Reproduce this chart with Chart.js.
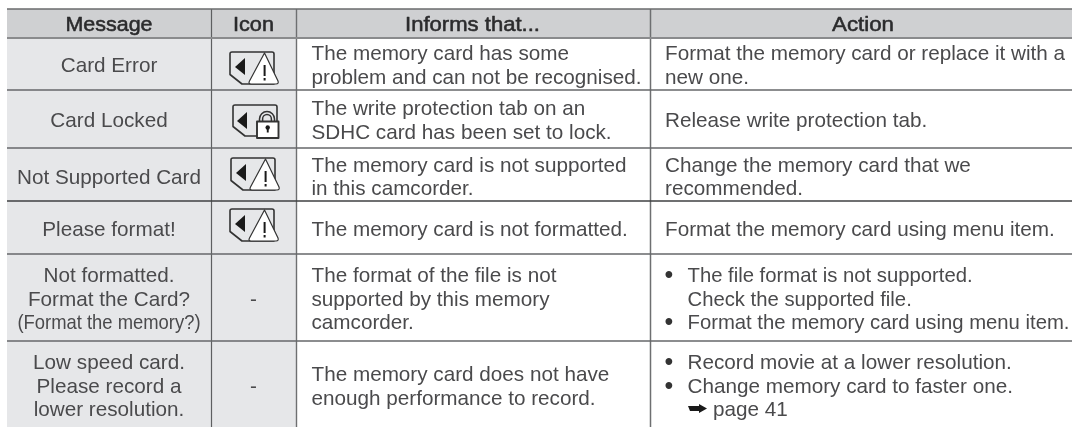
<!DOCTYPE html>
<html><head><meta charset="utf-8">
<script src="https://cdn.jsdelivr.net/npm/chart.js@4"></script>
<style>html,body{margin:0;padding:0;background:#fff}canvas{display:block}</style>
</head><body>
<canvas id="c" width="1072" height="427"></canvas>
<script>
const headers = ['Message','Icon','Informs that...','Action'];
const messages = [
  ['Card Error'],['Card Locked'],['Not Supported Card'],['Please format!'],
  ['Not formatted.','Format the Card?','(Format the memory?)'],
  ['Low speed card.','Please record a','lower resolution.']
];
const icons = ['warning','lock','warning','warning','-','-'];
const informs = [
  ['The memory card has some','problem and can not be recognised.'],
  ['The write protection tab on an','SDHC card has been set to lock.'],
  ['The memory card is not supported','in this camcorder.'],
  ['The memory card is not formatted.'],
  ['The format of the file is not','supported by this memory','camcorder.'],
  ['The memory card does not have','enough performance to record.']
];
const actions = [
  ['Format the memory card or replace it with a','new one.'],
  ['Release write protection tab.'],
  ['Change the memory card that we','recommended.'],
  ['Format the memory card using menu item.'],
  ['• The file format is not supported.','  Check the supported file.','• Format the memory card using menu item.'],
  ['• Record movie at a lower resolution.','• Change memory card to faster one.','→ page 41']
];
// table layout, in axis units
const colEdges = [7,211,296,650,1072];
const rowEdges = [9,38,90,148,201,254,341,427];
const rowOffset = [8,8.2,9,8.5,8.2,8.8];
const bulletScale = [1,1,1,1,0.98,1];
const headerCenters = [109,253.5,472.5,863];
const headerWidths = [87,41,135,62];
const textColor='#4a4a4c', headColor='#2b2b2d', FONT='"Liberation Sans"';
const FS=20.7, PITCH=23.6;

function warnIcon(ctx,x,y){
  ctx.save();ctx.translate(x,y);
  ctx.strokeStyle='#333';ctx.lineJoin='round';
  ctx.fillStyle='#fff';
  ctx.beginPath();ctx.moveTo(2,0);ctx.lineTo(42,0);ctx.quadraticCurveTo(44,0,44,2);
  ctx.lineTo(44,32);ctx.lineTo(12,32);ctx.lineTo(0,22.5);ctx.lineTo(0,2);ctx.quadraticCurveTo(0,0,2,0);ctx.closePath();
  ctx.lineWidth=1.6;ctx.stroke();
  ctx.fillStyle='#1a1a1a';ctx.beginPath();ctx.moveTo(5,15);ctx.lineTo(15,6);ctx.lineTo(15,23);ctx.closePath();ctx.fill();
  ctx.fillStyle='#fff';ctx.lineWidth=1.2;
  ctx.beginPath();ctx.moveTo(34.5,1);ctx.lineTo(48,29);ctx.quadraticCurveTo(49,32,46,32);ctx.lineTo(21,32);ctx.quadraticCurveTo(18,32,19.5,29);ctx.closePath();ctx.fill();ctx.stroke();
  ctx.fillStyle='#1a1a1a';ctx.fillRect(33.6,13,2,11);ctx.fillRect(33.6,26,2,2.5);
  ctx.restore();
}
function lockIcon(ctx,x,y){
  ctx.save();ctx.translate(x,y);
  ctx.strokeStyle='#333';ctx.lineWidth=1.6;ctx.lineJoin='round';
  ctx.beginPath();ctx.moveTo(2,0);ctx.lineTo(42,0);ctx.quadraticCurveTo(44,0,44,2);ctx.lineTo(44,18);
  ctx.moveTo(24,31);ctx.lineTo(12,31);ctx.lineTo(0,21.5);ctx.lineTo(0,2);ctx.quadraticCurveTo(0,0,2,0);ctx.stroke();
  ctx.fillStyle='#1a1a1a';ctx.beginPath();ctx.moveTo(4,16);ctx.lineTo(14,7);ctx.lineTo(14,24);ctx.closePath();ctx.fill();
  ctx.lineWidth=1.5;
  ctx.beginPath();ctx.arc(34,14,7.5,Math.PI,0);ctx.lineTo(41.5,18);ctx.moveTo(26.5,14);ctx.lineTo(26.5,18);ctx.stroke();
  ctx.beginPath();ctx.arc(34,14,4.4,Math.PI,0);ctx.lineTo(38.4,18);ctx.moveTo(29.6,14);ctx.lineTo(29.6,18);ctx.stroke();
  ctx.fillStyle='#fff';ctx.lineWidth=1.9;ctx.beginPath();ctx.rect(24,16.5,21.5,16.5);ctx.fill();ctx.stroke();
  ctx.fillStyle='#1a1a1a';ctx.beginPath();ctx.arc(34.7,22.5,2.2,0,7);ctx.fill();ctx.fillRect(33.8,23,1.9,4.5);
  ctx.restore();
}
const iconPos = [[230,52],[233,105],[231,158],[230,209]];

const tablePlugin = {
  id:'table',
  beforeDatasetsDraw(chart){
    const ctx=chart.ctx, X=v=>chart.scales.x.getPixelForValue(v), Y=v=>chart.scales.y.getPixelForValue(v);
    ctx.save();
    ctx.fillStyle='#cfd0d2';ctx.fillRect(X(colEdges[0]),Y(rowEdges[0]),X(colEdges[4])-X(colEdges[0]),Y(rowEdges[1])-Y(rowEdges[0]));
    ctx.fillStyle='#e6e7e9';ctx.fillRect(X(colEdges[0]),Y(rowEdges[1]),X(colEdges[2])-X(colEdges[0]),Y(rowEdges[7])-Y(rowEdges[1]));
    const vline=(x,a,b,c,w)=>{ctx.strokeStyle=c;ctx.lineWidth=w;ctx.beginPath();ctx.moveTo(X(x),Y(a));ctx.lineTo(X(x),Y(b));ctx.stroke();};
    const hline=(y,c,w)=>{ctx.strokeStyle=c;ctx.lineWidth=w;ctx.beginPath();ctx.moveTo(X(colEdges[0]),Y(y));ctx.lineTo(X(colEdges[4]),Y(y));ctx.stroke();};
    vline(211.5,rowEdges[0],rowEdges[7],'#5e5f61',1.2);
    vline(296.5,rowEdges[0],rowEdges[7],'#6e6f71',1.4);
    vline(650.5,rowEdges[0],rowEdges[7],'#6e6f71',1.5);
    hline(rowEdges[0],'#6a6b6d',1.4);
    hline(rowEdges[1],'#8a8b8d',2);
    [90,148,254,341].forEach(y=>hline(y,'#66676a',1.4));
    hline(201,'#3f4042',1.4);
    ctx.textBaseline='alphabetic';
    ctx.fillStyle=headColor;ctx.strokeStyle=headColor;ctx.lineWidth=0.55;ctx.lineJoin='round';
    ctx.font=FS+'px '+FONT;ctx.textAlign='center';
    headers.forEach((h,i)=>{
      const k=headerWidths[i]/ctx.measureText(h).width;
      ctx.save();ctx.translate(X(headerCenters[i]),Y(31));ctx.scale(k,1);
      ctx.fillText(h,0,0);ctx.strokeText(h,0,0);ctx.restore();
    });
    ctx.fillStyle=textColor;
    const cellY=(r,n,j)=>{
      const mid=(rowEdges[r+1]+rowEdges[r+2])/2+rowOffset[r];
      return mid+(j-(n-1)/2)*PITCH;
    };
    messages.forEach((ls,r)=>ls.forEach((s,j)=>{
      ctx.textAlign='center';
      if(s.startsWith('(')){
        ctx.save();ctx.translate(X(109),Y(cellY(r,ls.length,j)));ctx.scale(0.89,1);ctx.fillText(s,0,0);ctx.restore();
      } else ctx.fillText(s,X(109),Y(cellY(r,ls.length,j)));
    }));
    icons.forEach((ic,r)=>{
      if(ic==='-'){ctx.textAlign='center';ctx.fillText('-',X(253.5),Y((rowEdges[r+1]+rowEdges[r+2])/2+rowOffset[r]));}
      else if(ic==='lock') lockIcon(ctx,X(iconPos[r][0]),Y(iconPos[r][1]));
      else warnIcon(ctx,X(iconPos[r][0]),Y(iconPos[r][1]));
    });
    ctx.textAlign='left';
    informs.forEach((ls,r)=>ls.forEach((s,j)=>ctx.fillText(s,X(311.5),Y(cellY(r,ls.length,j)))));
    actions.forEach((ls,r)=>ls.forEach((s,j)=>{
      const y=Y(cellY(r,ls.length,j));
      const k=bulletScale[r];
      if(s.startsWith('• ')){
        ctx.font='25px '+FONT;ctx.fillStyle='#333';ctx.fillText('•',X(664.6),y+1);
        ctx.font=FS+'px '+FONT;ctx.fillStyle=textColor;
        ctx.save();ctx.translate(X(687.5),y);ctx.scale(k,1);ctx.fillText(s.slice(2),0,0);ctx.restore();
      }
      else if(s.startsWith('  ')){ctx.save();ctx.translate(X(687.5),y);ctx.scale(k,1);ctx.fillText(s.trim(),0,0);ctx.restore();}
      else if(s.startsWith('→ ')){
        ctx.fillStyle='#1a1a1a';
        const x0=X(688),ym=y-8;
        ctx.beginPath();ctx.moveTo(x0,ym-2.5);ctx.lineTo(x0+11,ym-2.5);ctx.lineTo(x0+11,ym-4.5);ctx.lineTo(x0+19,ym);ctx.lineTo(x0+11,ym+4.5);ctx.lineTo(x0+11,ym+2.5);ctx.lineTo(x0+2,ym+2.5);ctx.closePath();ctx.fill();
        ctx.fillStyle=textColor;
        ctx.fillText(s.slice(2),X(713),y);
      } else ctx.fillText(s,X(665),y);
    }));
    ctx.restore();
  }
};
new Chart(document.getElementById('c'),{
  type:'scatter',
  data:{datasets:[{data:[]}]},
  options:{
    responsive:false,animation:false,
    layout:{padding:0},
    plugins:{legend:{display:false},tooltip:{enabled:false},title:{display:false}},
    scales:{
      x:{type:'linear',min:0,max:1072,display:false},
      y:{type:'linear',min:0,max:427,reverse:true,display:false}
    }
  },
  plugins:[tablePlugin]
});
</script>
</body></html>
